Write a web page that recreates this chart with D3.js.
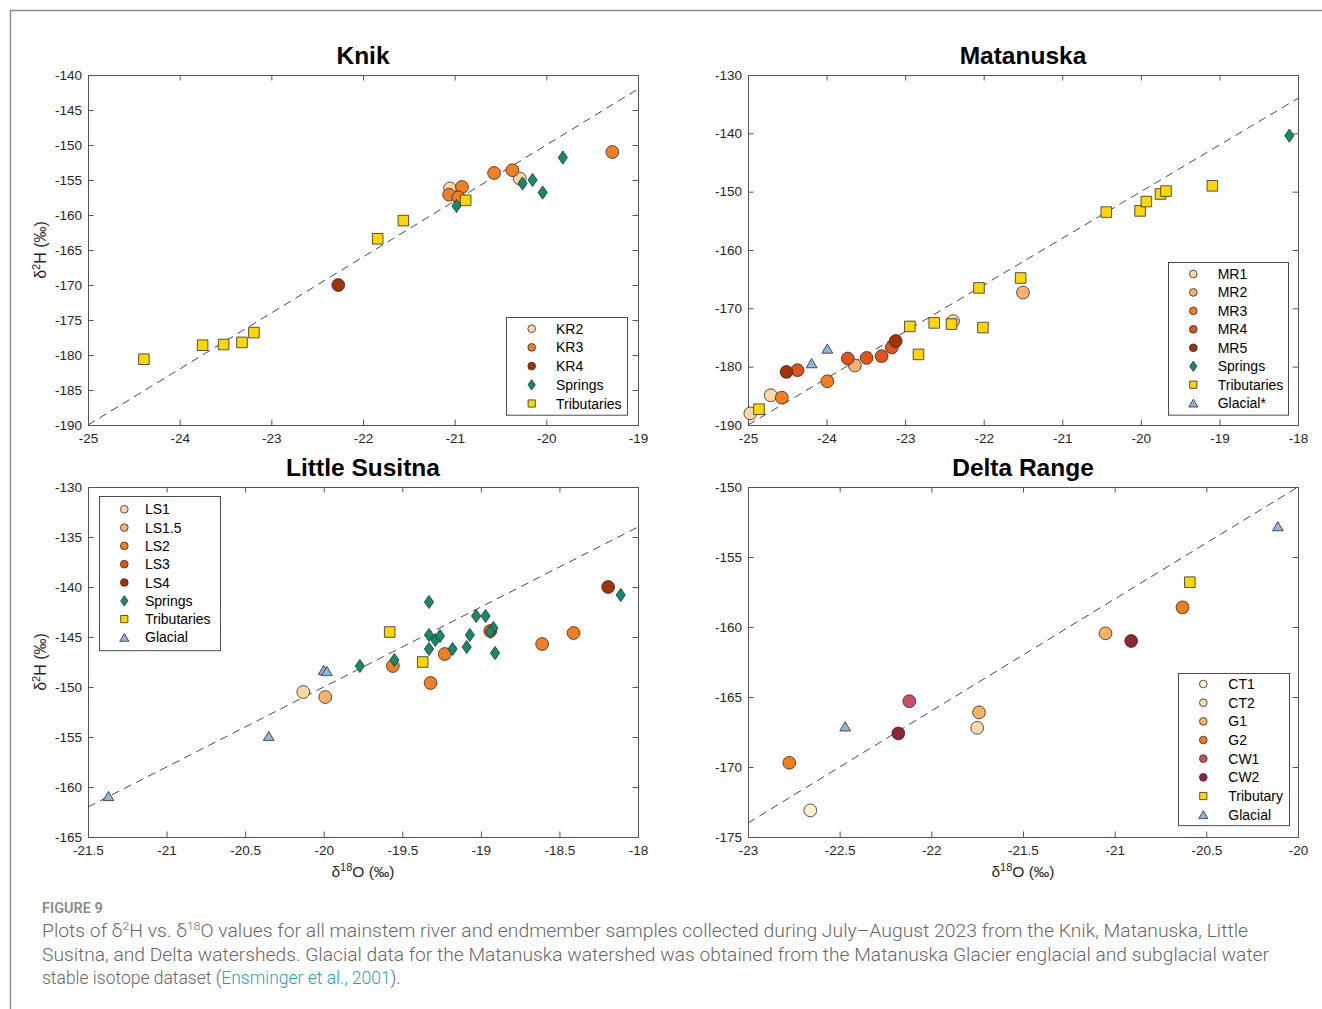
<!DOCTYPE html>
<html>
<head>
<meta charset="utf-8">
<script src="https://cdn.jsdelivr.net/npm/d3@7/dist/d3.min.js"></script>
<style>
  html, body { margin: 0; padding: 0; background: #fff; }
  svg { display: block; }
</style>
</head>
<body>
<svg id="fig" width="1322" height="1009"></svg>
<script>
// ---- Data: [δ18O, δ2H] pairs (‰) ----
// Knik
const knikKR2 = [[-21.05, -156.2], [-20.29, -154.8]];
const knikKR3 = [[-20.92, -156.0], [-21.06, -157.1], [-20.96, -157.5], [-20.57, -154.0], [-20.37, -153.6], [-19.28, -151.0]];
const knikKR4 = [[-22.27, -170.0]];
const knikSprings = [[-20.98, -158.7], [-20.26, -155.5], [-20.15, -155.0], [-20.04, -156.8], [-19.82, -151.8]];
const knikTribs = [[-24.39, -180.6], [-23.75, -178.6], [-23.52, -178.5], [-23.32, -178.2], [-23.19, -176.8], [-21.84, -163.4], [-21.56, -160.8], [-20.88, -157.9]];

// Matanuska
const matMR1 = [[-24.97, -188.0], [-24.71, -184.9], [-22.39, -172.2]];
const matMR2 = [[-23.64, -179.8], [-21.50, -167.3]];
const matMR3 = [[-24.57, -185.3], [-23.99, -182.5]];
const matMR4 = [[-24.37, -180.6], [-23.73, -178.6], [-23.49, -178.5], [-23.30, -178.2], [-23.17, -176.7]];
const matMR5 = [[-24.51, -180.9], [-23.12, -175.6]];
const matSprings = [[-18.11, -140.4]];
const matTribs = [[-24.86, -187.3], [-22.94, -173.1], [-22.83, -177.9], [-22.63, -172.5], [-22.41, -172.7], [-22.06, -166.5], [-22.01, -173.3], [-21.53, -164.8], [-20.44, -153.5], [-20.01, -153.3], [-19.93, -151.7], [-19.75, -150.4], [-19.68, -149.9], [-19.09, -149.0]];
const matGlacial = [[-24.19, -179.4], [-23.99, -176.9]];

// Little Susitna
const lsLS1 = [[-20.13, -150.5]];
const lsLS15 = [[-19.99, -151.0]];
const lsLS2 = [[-19.56, -147.9], [-19.32, -149.6], [-19.23, -146.7], [-18.61, -145.7], [-18.41, -144.6]];
const lsLS3 = [[-18.94, -144.4]];
const lsLS4 = [[-18.19, -140.0]];
const lsSprings = [[-19.77, -147.9], [-19.55, -147.3], [-19.33, -141.5], [-19.33, -144.8], [-19.33, -146.2], [-19.29, -145.3], [-19.26, -144.9], [-19.18, -146.2], [-19.09, -146.0], [-19.07, -144.8], [-19.03, -142.9], [-18.97, -142.9], [-18.92, -144.1], [-18.94, -144.5], [-18.91, -146.6], [-18.11, -140.8]];
const lsTribs = [[-19.58, -144.5], [-19.37, -147.5]];
const lsGlacial = [[-21.37, -160.9], [-20.35, -154.9], [-20.00, -148.3], [-19.98, -148.4]];

// Delta Range
const deltaCT1 = [[-22.66, -173.1]];
const deltaCT2 = [[-21.75, -167.2]];
const deltaG1 = [[-21.74, -166.1], [-21.05, -160.45]];
const deltaG2 = [[-22.775, -169.7], [-20.63, -158.6]];
const deltaCW1 = [[-22.12, -165.3]];
const deltaCW2 = [[-22.18, -167.6], [-20.91, -161.0]];
const deltaTrib = [[-20.59, -156.8]];
const deltaGlacial = [[-22.47, -167.1], [-20.11, -152.8]];

// Global Meteoric Water Line: δ2H = 8·δ18O + 10
const gmwlSlope = 8;
const gmwlIntercept = 10;

// Axis tick values
const knikXTicks = [-25, -24, -23, -22, -21, -20, -19];
const knikYTicks = [-190, -185, -180, -175, -170, -165, -160, -155, -150, -145, -140];
const matXTicks = [-25, -24, -23, -22, -21, -20, -19, -18];
const matYTicks = [-190, -180, -170, -160, -150, -140, -130];
const lsXTicks = [-21.5, -21, -20.5, -20, -19.5, -19, -18.5, -18];
const lsYTicks = [-165, -160, -155, -150, -145, -140, -135, -130];
const deltaXTicks = [-23, -22.5, -22, -21.5, -21, -20.5, -20];
const deltaYTicks = [-175, -170, -165, -160, -155, -150];

// ---- Styling ----
const C = {
  pale: "#fdd7a6", light: "#fdb26a", orange: "#f57f20", redOrange: "#e1531b", brown: "#a33204",
  spring: "#138c6c", trib: "#ffd700", glacial: "#90b5de",
  ct1: "#fff2cf", ct2: "#f3dbb0", g1: "#fdb160", g2: "#f57c14", cw1: "#c9525f", cw2: "#912534"
};

const panels = [
  {
    title: "Knik", box: [88, 75, 638, 425], xDom: [-25, -19], yDom: [-190, -140],
    xTicks: knikXTicks, yTicks: knikYTicks, yLabel: true, xLabel: false,
    legend: { x: 506, y: 317, w: 121, row: 18.7, first: 11.7, mx: 25.7, tx: 50 },
    series: [
      { name: "KR2", shape: "circle", fill: C.pale, data: knikKR2 },
      { name: "KR3", shape: "circle", fill: C.orange, data: knikKR3 },
      { name: "KR4", shape: "circle", fill: C.brown, data: knikKR4 },
      { name: "Springs", shape: "diamond", fill: C.spring, data: knikSprings },
      { name: "Tributaries", shape: "square", fill: C.trib, data: knikTribs }
    ]
  },
  {
    title: "Matanuska", box: [748, 75, 1298, 425], xDom: [-25, -18], yDom: [-190, -130],
    xTicks: matXTicks, yTicks: matYTicks, yLabel: false, xLabel: false,
    legend: { x: 1168, y: 262, w: 120, row: 18.45, first: 12, mx: 25.3, tx: 49.7 },
    series: [
      { name: "MR1", shape: "circle", fill: C.pale, data: matMR1 },
      { name: "MR2", shape: "circle", fill: C.light, data: matMR2 },
      { name: "MR3", shape: "circle", fill: C.orange, data: matMR3 },
      { name: "MR4", shape: "circle", fill: C.redOrange, data: matMR4 },
      { name: "MR5", shape: "circle", fill: C.brown, data: matMR5 },
      { name: "Springs", shape: "diamond", fill: C.spring, data: matSprings },
      { name: "Tributaries", shape: "square", fill: C.trib, data: matTribs },
      { name: "Glacial*", shape: "triangle", fill: C.glacial, data: matGlacial }
    ]
  },
  {
    title: "Little Susitna", box: [88, 487, 638, 837], xDom: [-21.5, -18], yDom: [-165, -130],
    xTicks: lsXTicks, yTicks: lsYTicks, yLabel: true, xLabel: true,
    legend: { x: 99, y: 496, w: 121, row: 18.3, first: 13.3, mx: 25.3, tx: 46 },
    series: [
      { name: "LS1", shape: "circle", fill: C.pale, data: lsLS1 },
      { name: "LS1.5", shape: "circle", fill: C.light, data: lsLS15 },
      { name: "LS2", shape: "circle", fill: C.orange, data: lsLS2 },
      { name: "LS3", shape: "circle", fill: C.redOrange, data: lsLS3 },
      { name: "LS4", shape: "circle", fill: C.brown, data: lsLS4 },
      { name: "Springs", shape: "diamond", fill: C.spring, data: lsSprings },
      { name: "Tributaries", shape: "square", fill: C.trib, data: lsTribs },
      { name: "Glacial", shape: "triangle", fill: C.glacial, data: lsGlacial }
    ]
  },
  {
    title: "Delta Range", box: [748, 487, 1298, 837], xDom: [-23, -20], yDom: [-175, -150],
    xTicks: deltaXTicks, yTicks: deltaYTicks, yLabel: false, xLabel: true,
    legend: { x: 1178, y: 673, w: 111, row: 18.67, first: 11, mx: 25.3, tx: 50.3 },
    series: [
      { name: "CT1", shape: "circle", fill: C.ct1, data: deltaCT1 },
      { name: "CT2", shape: "circle", fill: C.ct2, data: deltaCT2 },
      { name: "G1", shape: "circle", fill: C.g1, data: deltaG1 },
      { name: "G2", shape: "circle", fill: C.g2, data: deltaG2 },
      { name: "CW1", shape: "circle", fill: C.cw1, data: deltaCW1 },
      { name: "CW2", shape: "circle", fill: C.cw2, data: deltaCW2 },
      { name: "Tributary", shape: "square", fill: C.trib, data: deltaTrib },
      { name: "Glacial", shape: "triangle", fill: C.glacial, data: deltaGlacial }
    ]
  }
];

// Marker outlines centred on (0,0); k scales them down for legend entries
function markerPath(shape, k) {
  const p = d3.path();
  if (shape === "circle") {
    const r = 6.4 * k;
    p.moveTo(r, 0); p.arc(0, 0, r, 0, 2 * Math.PI);
  } else if (shape === "square") {
    const h = 5.3 * k;
    p.rect(-h, -h, 2 * h, 2 * h);
  } else if (shape === "diamond") {
    const w = 4.6 * k, h = 6.6 * k;
    p.moveTo(0, -h); p.lineTo(w, 0); p.lineTo(0, h); p.lineTo(-w, 0); p.closePath();
  } else if (shape === "triangle") {
    const w = 5.4 * k, h = 4.6 * k;
    p.moveTo(0, -h); p.lineTo(w, h); p.lineTo(-w, h); p.closePath();
  }
  return p.toString();
}
const legendScale = { circle: 0.6, square: 0.68, diamond: 0.78, triangle: 0.85 };

const svg = d3.select("#fig");
const FONT = "'Liberation Sans', Arial, Helvetica, sans-serif";
const AXIS = "#555";
const TXT = "#262626";

// Frame around the figure
svg.append("path")
  .attr("d", "M10.5,1009 V10.5 H1322")
  .attr("fill", "none").attr("stroke", "#8a8a8a").attr("stroke-width", 1.5);

panels.forEach((P, pi) => {
  const [x0, y0, x1, y1] = P.box;
  const x = d3.scaleLinear().domain(P.xDom).range([x0, x1]);
  const y = d3.scaleLinear().domain(P.yDom).range([y1, y0]);
  const g = svg.append("g");
  const fmt = d => String(d);

  // Mirrored inward ticks on all four sides
  const tl = 5.5;
  const axB = d3.axisBottom(x).tickValues(P.xTicks).tickSize(-tl).tickPadding(8).tickFormat(fmt);
  const axT = d3.axisTop(x).tickValues(P.xTicks).tickSize(-tl).tickFormat("");
  const axL = d3.axisLeft(y).tickValues(P.yTicks).tickSize(-tl).tickPadding(6).tickFormat(fmt);
  const axR = d3.axisRight(y).tickValues(P.yTicks).tickSize(-tl).tickFormat("");

  const gb = g.append("g").attr("transform", `translate(0,${y1})`).call(axB);
  const gt = g.append("g").attr("transform", `translate(0,${y0})`).call(axT);
  const gl = g.append("g").attr("transform", `translate(${x0},0)`).call(axL);
  const gr = g.append("g").attr("transform", `translate(${x1},0)`).call(axR);
  [gb, gt, gl, gr].forEach(a => {
    a.select(".domain").attr("stroke", AXIS).attr("stroke-width", 1);
    a.selectAll(".tick line").attr("stroke", AXIS).attr("stroke-width", 1);
    a.selectAll("text").attr("fill", TXT).style("font-family", FONT).style("font-size", "13.5px");
  });

  // Title
  g.append("text")
    .attr("x", (x0 + x1) / 2).attr("y", y0 - 11)
    .attr("text-anchor", "middle")
    .style("font-family", FONT).style("font-weight", "bold").style("font-size", "24.5px")
    .attr("fill", "#000").text(P.title);

  // Axis labels
  if (P.yLabel) {
    const t = g.append("text")
      .attr("transform", `translate(${x0 - 42},${(y0 + y1) / 2}) rotate(-90)`)
      .attr("text-anchor", "middle")
      .style("font-family", FONT).style("font-size", "16px").attr("fill", TXT);
    t.append("tspan").text("δ");
    t.append("tspan").text("2").style("font-size", "11px").attr("dy", -6);
    t.append("tspan").text("H (‰)").attr("dy", 6);
  }
  if (P.xLabel) {
    const t = g.append("text")
      .attr("x", (x0 + x1) / 2).attr("y", y1 + 40)
      .attr("text-anchor", "middle")
      .style("font-family", FONT).style("font-size", "15.5px").attr("fill", TXT);
    t.append("tspan").text("δ");
    t.append("tspan").text("18").style("font-size", "11px").attr("dy", -6);
    t.append("tspan").text("O (‰)").attr("dy", 6);
  }

  // Clip region for data
  const clipId = "clip" + pi;
  svg.append("clipPath").attr("id", clipId)
    .append("rect").attr("x", x0).attr("y", y0).attr("width", x1 - x0).attr("height", y1 - y0);
  const plot = g.append("g").attr("clip-path", `url(#${clipId})`);

  // GMWL reference line
  const lineX = P.xDom;
  plot.append("line")
    .attr("x1", x(lineX[0])).attr("y1", y(gmwlSlope * lineX[0] + gmwlIntercept))
    .attr("x2", x(lineX[1])).attr("y2", y(gmwlSlope * lineX[1] + gmwlIntercept))
    .attr("stroke", "#333").attr("stroke-width", 0.9).attr("stroke-dasharray", "8,5.5");

  // Sample markers, drawn in legend order
  const markers = g.append("g");
  P.series.forEach(s => {
    markers.selectAll(null).data(s.data).enter().append("path")
      .attr("d", markerPath(s.shape, 1))
      .attr("transform", d => `translate(${x(d[0])},${y(d[1])})`)
      .attr("fill", s.fill)
      .attr("stroke", "#2b2b2b").attr("stroke-width", 0.8);
  });

  // Legend
  const L = P.legend;
  const n = P.series.length;
  const lh = L.first * 2 + L.row * (n - 1) - 0.5;
  const lg = g.append("g").attr("transform", `translate(${L.x},${L.y})`);
  lg.append("rect").attr("x", 0.5).attr("y", 0.5).attr("width", L.w).attr("height", lh)
    .attr("fill", "#fff").attr("stroke", "#3a3a3a").attr("stroke-width", 0.9);
  P.series.forEach((s, i) => {
    const cy = L.first + i * L.row;
    lg.append("path")
      .attr("d", markerPath(s.shape, legendScale[s.shape]))
      .attr("transform", `translate(${L.mx},${cy})`)
      .attr("fill", s.fill).attr("stroke", "#2b2b2b").attr("stroke-width", 0.8);
    lg.append("text").attr("x", L.tx).attr("y", cy).attr("dy", "0.36em")
      .style("font-family", FONT).style("font-size", "14px").attr("fill", "#000")
      .text(s.name);
  });
});

// Caption
const CAP = "Roboto, 'Open Sans', sans-serif";
svg.append("text").attr("x", 42).attr("y", 913)
  .style("font-family", CAP).style("font-size", "14.5px").style("font-weight", "600")
  .attr("fill", "#8a8a8a").text("FIGURE 9");

const capLines = [
  [["Plots of δ"], ["2", "sup"], ["H vs. δ"], ["18", "sup"], ["O values for all mainstem river and endmember samples collected during July–August 2023 from the Knik, Matanuska, Little"]],
  [["Susitna, and Delta watersheds. Glacial data for the Matanuska watershed was obtained from the Matanuska Glacier englacial and subglacial water"]],
  [["stable isotope dataset ("], ["Ensminger et al., 2001", "link"], [")."]]
];
const capWidths = [1206, 1227, null];
capLines.forEach((parts, i) => {
  const t = svg.append("text").attr("x", 42).attr("y", 937 + i * 23.5)
    .style("font-family", CAP).style("font-size", "17.5px").style("font-weight", "300")
    .attr("fill", "#666");
  if (capWidths[i]) t.attr("textLength", capWidths[i]).attr("lengthAdjust", "spacingAndGlyphs");
  let shifted = false;
  parts.forEach(([txt, kind]) => {
    const sp = t.append("tspan").text(txt);
    if (kind === "sup") {
      sp.style("font-size", "11px").attr("dy", shifted ? 0 : -7);
      shifted = true;
    } else {
      if (shifted) { sp.attr("dy", 7); shifted = false; }
      if (kind === "link") sp.attr("fill", "#1fa3b8");
    }
  });
});
</script>
</body>
</html>
